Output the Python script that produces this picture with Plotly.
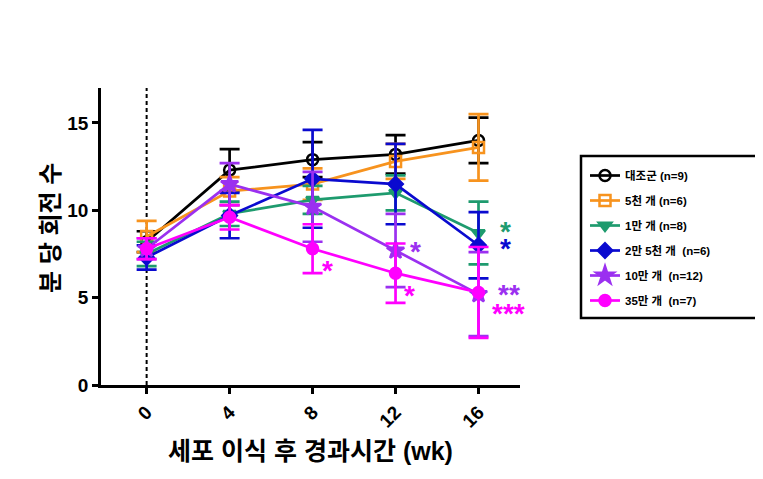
import plotly.graph_objects as go

weeks = [0, 4, 8, 12, 16]
tick_labels = ["0", "4", "8", "12", "16"]

names = ["대조군 (n=9)", "5천 개 (n=6)", "1만 개 (n=8)", "2만 5천 개  (n=6)", "10만 개  (n=12)", "35만 개  (n=7)"]

ctrl_mean = [8.2, 12.3, 12.9, 13.2, 14.0]
ctrl_err = [0.6, 1.2, 1.0, 1.1, 1.3]
k5_mean = [8.5, 11.1, 11.5, 12.8, 13.6]
k5_err = [0.9, 0.8, 0.9, 1.0, 1.9]
k10_mean = [7.5, 9.8, 10.6, 11.0, 8.7]
k10_err = [0.7, 0.7, 0.8, 1.0, 1.8]
k25_mean = [7.3, 9.7, 11.8, 11.5, 8.0]
k25_err = [0.7, 1.3, 2.8, 2.3, 1.9]
k100_mean = [7.8, 11.5, 10.2, 7.7, 5.2]
k100_err = [0.6, 1.2, 2.0, 2.1, 2.4]
k350_mean = [7.8, 9.6, 7.8, 6.4, 5.3]
k350_err = [0.6, 0.7, 1.4, 1.7, 2.6]

means = [ctrl_mean, k5_mean, k10_mean, k25_mean, k100_mean, k350_mean]
errs = [ctrl_err, k5_err, k10_err, k25_err, k100_err, k350_err]
colors = ["#000000", "#F7931E", "#1E9B6E", "#0A0ACF", "#9B30F0", "#FF00FF"]
symbols = ["circle-open", "square-open", "triangle-down", "diamond", "star", "circle"]

# significance marks: (x, y, text, color index)
sig_x = [16.95, 16.95, 16.85, 16.55, 12.6, 12.3, 8.35]
sig_y = [8.9, 7.95, 5.3, 4.2, 7.75, 5.25, 6.65]
sig_text = ["*", "*", "**", "***", "*", "*", "*"]
sig_color = [2, 3, 4, 5, 4, 5, 5]

FONT = "Liberation Sans, Arial, Noto Sans CJK KR"
# page body has an 8px margin: figure coords = screen px - 8
W, H = 755, 471
L, R, T, B = 93, 512, 80, 377
PW, PH = R - L, B - T

fig = go.Figure()
for i in range(6):
    fig.add_trace(go.Scatter(
        x=weeks, y=means[i], name=names[i], mode="lines+markers",
        legendgroup=f"g{i}",
        line=dict(color=colors[i], width=2.7),
        marker=dict(symbol=symbols[i], size=11 if symbols[i] != "star" else 13,
                    color=colors[i], line=dict(color=colors[i], width=2.5)),
        error_y=dict(type="data", array=errs[i], visible=True, color=colors[i],
                     thickness=2.7, width=10),
    ))

for x, y, t, c in zip(sig_x, sig_y, sig_text, sig_color):
    fig.add_annotation(x=x, y=y, text=f"<b>{t}</b>", showarrow=False,
                       font=dict(size=28, color=colors[c], family=FONT),
                       xanchor="left", yanchor="middle", yshift=-2)

# y-axis title
fig.add_annotation(x=(42 - L) / PW, y=(B - 220) / PH, xref="paper", yref="paper",
                   text="분 당 회전 수", textangle=-90, showarrow=False,
                   xanchor="center", yanchor="middle",
                   font=dict(size=24, family=FONT, weight="bold", color="black"))

fig.add_shape(type="line", x0=0, x1=0, y0=0, y1=17, xref="x", yref="y",
              line=dict(color="black", width=2, dash="4px,3px"), layer="below")
# legend box
fig.add_shape(type="rect", xref="paper", yref="paper",
              x0=(573 - L) / PW, x1=(749 - L) / PW,
              y0=(B - 310) / PH, y1=(B - 148) / PH,
              line=dict(color="black", width=2.5))

fig.update_layout(
    width=W, height=H,
    margin=dict(l=L, r=W - R, t=T, b=H - B, autoexpand=False),
    plot_bgcolor="white", paper_bgcolor="white",
    font=dict(family=FONT, color="black"),
    legend=dict(x=(577 - L) / PW, y=(B - 153) / PH, xanchor="left", yanchor="top",
                font=dict(size=11.5, family=FONT, color="black", weight="bold"),
                tracegroupgap=6, bgcolor="rgba(0,0,0,0)", borderwidth=0,
                itemwidth=30),
    showlegend=True,
)
fig.update_xaxes(range=[-2.2, 18], tickvals=weeks, ticktext=tick_labels, tickangle=-45,
                 showline=True, linecolor="black", linewidth=2.5, ticks="outside",
                 ticklen=6, tickwidth=2.5, tickcolor="black", showgrid=False, zeroline=False,
                 tickfont=dict(size=19, family=FONT, weight="bold"),
                 title=dict(text="세포 이식 후 경과시간 (wk)", standoff=12,
                            font=dict(size=25, family=FONT, weight="bold")))
fig.update_yaxes(range=[0, 17], tickvals=[0, 5, 10, 15],
                 showline=True, linecolor="black", linewidth=2.5, ticks="outside",
                 ticklen=6, tickwidth=2.5, tickcolor="black", showgrid=False, zeroline=False,
                 tickfont=dict(size=19, family=FONT, weight="bold"))

fig.write_html("out.html")
